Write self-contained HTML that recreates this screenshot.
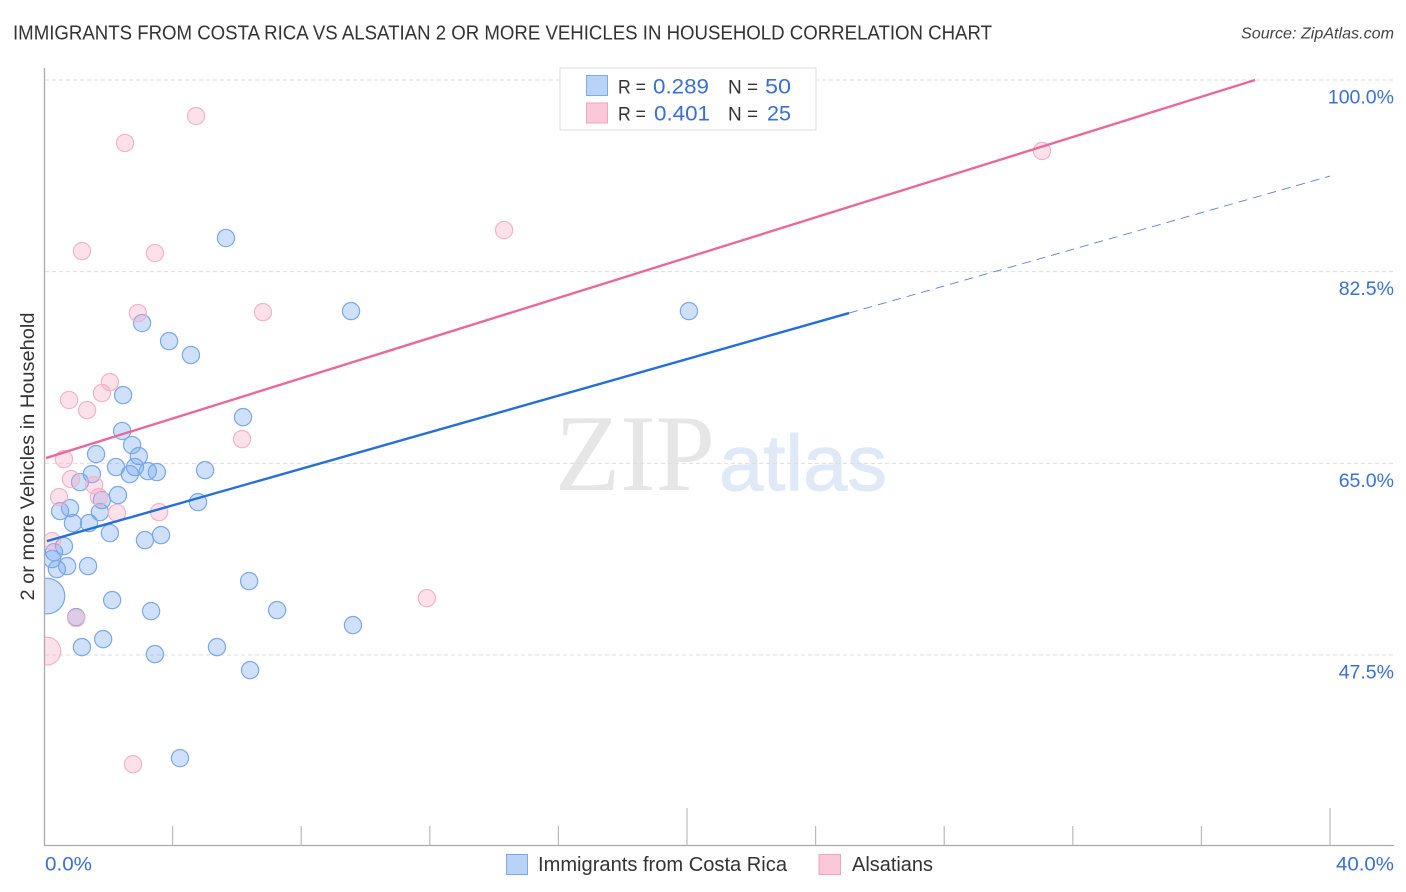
<!DOCTYPE html>
<html lang="en">
<head>
<meta charset="utf-8">
<title>Immigrants from Costa Rica vs Alsatian 2 or more Vehicles in Household Correlation Chart</title>
<style>
html,body{margin:0;padding:0;background:#fff;}
body{width:1406px;height:892px;overflow:hidden;}
svg{display:block;font-family:"Liberation Sans",sans-serif;}
</style>
</head>
<body>
<svg id="chart" xmlns="http://www.w3.org/2000/svg" width="1406" height="892" viewBox="0 0 1406 892">
  <defs>
    <clipPath id="plot-clip"><rect x="45" y="60" width="1349" height="785"/></clipPath>
  </defs>
  <rect x="0" y="0" width="1406" height="892" fill="#ffffff"/>
  <text x="13" y="39.5" font-size="20" fill="#333333" textLength="979" lengthAdjust="spacingAndGlyphs">IMMIGRANTS FROM COSTA RICA VS ALSATIAN 2 OR MORE VEHICLES IN HOUSEHOLD CORRELATION CHART</text>
  <text x="1394" y="38.5" font-size="16" font-style="italic" fill="#444" text-anchor="end" textLength="153" lengthAdjust="spacingAndGlyphs">Source: ZipAtlas.com</text>

  <g id="watermark">
    <text x="555" y="490" font-family="'Liberation Serif',serif" font-size="109" fill="#e6e6e6" textLength="160" lengthAdjust="spacingAndGlyphs">ZIP</text>
    <text x="719" y="490" font-size="79" fill="#dfe9f8" stroke="#dfe9f8" stroke-width="1" textLength="168" lengthAdjust="spacingAndGlyphs">atlas</text>
  </g>

  <g id="grid"></g>
  <g id="axes"></g>
  <g id="points" clip-path="url(#plot-clip)"></g>
  <g id="trends"></g>
  <g id="ylabels"></g>

  <text transform="translate(34,456.5) rotate(-90)" font-size="19.5" fill="#333333" text-anchor="middle" textLength="288" lengthAdjust="spacingAndGlyphs">2 or more Vehicles in Household</text>
  <text x="45" y="870.5" font-size="19.5" fill="#3b6fd4" textLength="47" lengthAdjust="spacingAndGlyphs">0.0%</text>
  <text x="1336" y="870.5" font-size="19.5" fill="#3b6fd4" textLength="58" lengthAdjust="spacingAndGlyphs">40.0%</text>

  <g>
    <rect x="560" y="68" width="256" height="62" fill="#ffffff" stroke="#dcdcdc" stroke-width="1"/>
    <rect x="586.5" y="75.5" width="21" height="20" fill="#b9d3f7" stroke="#7fa9e2"/>
    <rect x="586.5" y="103" width="21" height="20" fill="#fbc8da" stroke="#f0a3bd"/>
    <text x="618" y="93.5" font-size="19" fill="#333333" textLength="28" lengthAdjust="spacingAndGlyphs">R =</text>
    <text x="653" y="93.5" font-size="21" fill="#3b6fd4" textLength="56" lengthAdjust="spacingAndGlyphs">0.289</text>
    <text x="728" y="93.5" font-size="19" fill="#333333">N =</text>
    <text x="765" y="93.5" font-size="21" fill="#3b6fd4" textLength="26" lengthAdjust="spacingAndGlyphs">50</text>
    <text x="618" y="120.5" font-size="19" fill="#333333" textLength="28" lengthAdjust="spacingAndGlyphs">R =</text>
    <text x="654" y="120.5" font-size="21" fill="#3b6fd4" textLength="56" lengthAdjust="spacingAndGlyphs">0.401</text>
    <text x="728" y="120.5" font-size="19" fill="#333333">N =</text>
    <text x="767" y="120.5" font-size="21" fill="#3b6fd4" textLength="24" lengthAdjust="spacingAndGlyphs">25</text>
  </g>

  <g>
    <rect x="506.5" y="854.5" width="21" height="20" fill="#b9d3f7" stroke="#7fa9e2"/>
    <text x="538" y="871" font-size="20" fill="#333333" textLength="249" lengthAdjust="spacingAndGlyphs">Immigrants from Costa Rica</text>
    <rect x="819" y="854.5" width="21.5" height="20" fill="#fbc8da" stroke="#f0a3bd"/>
    <text x="852" y="871" font-size="20" fill="#333333" textLength="81" lengthAdjust="spacingAndGlyphs">Alsatians</text>
  </g>
</svg>
<script>
const yTickValues = [100, 82.5, 65, 47.5];
const yTickLabels = ["100.0%", "82.5%", "65.0%", "47.5%"];
const xTickValues = [0, 4, 8, 12, 16, 20, 24, 28, 32, 36, 40];
const xMajorTicks = [20, 40];

const blueX = [5.66, 9.55, 20.06, 3.05, 3.89, 4.57, 2.46, 6.19, 2.43, 2.74, 1.62, 2.95, 2.24, 2.83, 2.67, 3.23, 3.51, 5.01, 1.49, 1.12, 2.30, 1.80, 4.79, 0.50, 0.81, 1.74, 0.90, 1.40, 2.05, 3.14, 3.64, 0.62, 0.31, 0.25, 0.40, 0.72, 1.37, 6.38, 2.12, 3.33, 7.25, 1.00, 9.61, 1.84, 1.18, 3.45, 5.38, 6.41, 4.23, 0.09];
const blueY = [85.57, 78.90, 78.90, 77.81, 76.16, 74.89, 71.23, 69.22, 67.95, 66.67, 65.84, 65.66, 64.66, 64.66, 64.02, 64.29, 64.20, 64.38, 64.02, 63.29, 62.10, 61.64, 61.46, 60.64, 60.91, 60.55, 59.54, 59.54, 58.63, 57.99, 58.45, 57.44, 56.89, 56.26, 55.34, 55.62, 55.62, 54.25, 52.51, 51.51, 51.60, 50.96, 50.23, 48.95, 48.22, 47.58, 48.22, 46.12, 38.08, 52.88];
const blueWeight = [1, 1, 1, 1, 1, 1, 1, 1, 1, 1, 1, 1, 1, 1, 1, 1, 1, 1, 1, 1, 1, 1, 1, 1, 1, 1, 1, 1, 1, 1, 1, 1, 1, 1, 1, 1, 1, 1, 1, 1, 1, 1, 1, 1, 1, 1, 1, 1, 1, 4.3];

const pinkX = [4.73, 2.52, 1.18, 3.45, 2.92, 6.81, 14.31, 31.04, 0.78, 1.34, 1.80, 2.05, 6.16, 0.62, 0.84, 1.56, 1.71, 0.47, 2.27, 3.58, 0.25, 1.00, 11.91, 2.77, 0.09];
const pinkY = [96.71, 94.25, 84.38, 84.20, 78.72, 78.81, 86.30, 93.52, 70.78, 69.86, 71.42, 72.42, 67.21, 65.39, 63.56, 63.01, 61.92, 61.92, 60.46, 60.55, 57.90, 50.87, 52.69, 37.53, 47.85];
const pinkWeight = [1, 1, 1, 1, 1, 1, 1, 1, 1, 1, 1, 1, 1, 1, 1, 1, 1, 1, 1, 1, 1, 1, 1, 1, 2.6];

const blueTrendX = [0.09, 25.04];
const blueTrendY = [57.90, 78.72];
const blueForecastX = [25.04, 40];
const blueForecastY = [78.72, 91.23];
const pinkTrendX = [0.06, 37.67];
const pinkTrendY = [65.48, 100];

const NS = "http://www.w3.org/2000/svg";
function xScale(v) { return 44 + v * (1286 / 40); }
function yScale(v) { return 80 + (100 - v) * (575 / 52.5); }
function rScale(w) { return 8.6 * Math.sqrt(w); }
function mk(tag, attrs, parent) {
  const el = document.createElementNS(NS, tag);
  for (const k in attrs) el.setAttribute(k, attrs[k]);
  parent.appendChild(el);
  return el;
}

const grid = document.getElementById("grid");
const axes = document.getElementById("axes");
const pointsG = document.getElementById("points");
const trends = document.getElementById("trends");
const ylabels = document.getElementById("ylabels");

yTickValues.forEach(function (v, i) {
  const line = mk("line", { x1: 45, x2: 1394, y1: yScale(v), y2: yScale(v), stroke: "#dddddd", "stroke-width": 1, "stroke-dasharray": "4 3" }, grid);
  
  
  const label = mk("text", { x: 1394, y: yScale(v) + 23.5, "font-size": 19.5, fill: "#3b6fd4", "text-anchor": "end" }, ylabels);
  label.textContent = yTickLabels[i];
  
  
});

const yAxis = mk("line", { x1: 44.5, x2: 44.5, y1: 68, y2: 846, stroke: "#aaaaaa", "stroke-width": 1.3 }, axes);


const xAxis = mk("line", { x1: 44, x2: 1394, y1: 845.5, y2: 845.5, stroke: "#aaaaaa", "stroke-width": 1.3 }, axes);



xTickValues.forEach(function (v) {
  if (v === 0) return;
  const major = xMajorTicks.indexOf(v) >= 0;
  const tick = mk("line", { x1: xScale(v), x2: xScale(v), y1: major ? 808 : 826, y2: 845, stroke: "#bbbbbb", "stroke-width": 1.2 }, axes);
  
  
});

blueX.forEach(function (x, i) {
  const c = mk("circle", { cx: xScale(x), cy: yScale(blueY[i]), r: rScale(blueWeight[i]), fill: "#6ea5ef", "fill-opacity": 0.33, stroke: "#7aa8e8", "stroke-width": 1.2 }, pointsG);
  
  
});
pinkX.forEach(function (x, i) {
  const c = mk("circle", { cx: xScale(x), cy: yScale(pinkY[i]), r: rScale(pinkWeight[i]), fill: "#f7a3c0", "fill-opacity": 0.32, stroke: "#f3b3c8", "stroke-width": 1.2 }, pointsG);
  
  
});

const blueTrend = mk("line", { x1: xScale(blueTrendX[0]), y1: yScale(blueTrendY[0]), x2: xScale(blueTrendX[1]), y2: yScale(blueTrendY[1]), stroke: "#2470d8", "stroke-width": 2.4 }, trends);


const blueForecast = mk("line", { x1: xScale(blueForecastX[0]), y1: yScale(blueForecastY[0]), x2: xScale(blueForecastX[1]), y2: yScale(blueForecastY[1]), stroke: "#5a83cc", "stroke-width": 0.9, "stroke-dasharray": "9 6" }, trends);


const pinkTrend = mk("line", { x1: xScale(pinkTrendX[0]), y1: yScale(pinkTrendY[0]), x2: xScale(pinkTrendX[1]), y2: yScale(pinkTrendY[1]), stroke: "#e8699b", "stroke-width": 2.4 }, trends);


</script>
</body>
</html>
